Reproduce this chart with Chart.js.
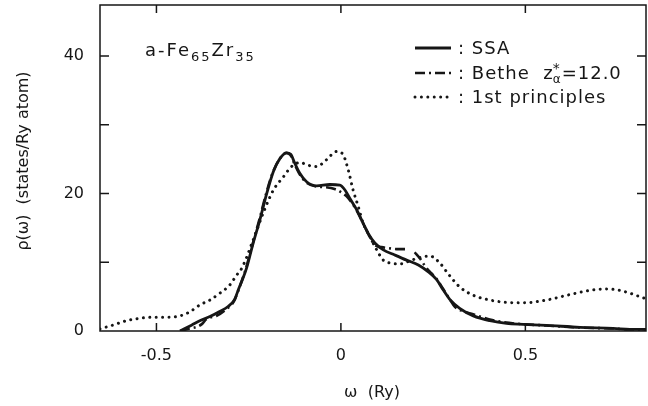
<!DOCTYPE html>
<html>
<head>
<meta charset="utf-8">
<script src="https://cdn.jsdelivr.net/npm/chart.js@4.4.0/dist/chart.umd.min.js"></script>
<style>
  html, body { margin: 0; padding: 0; background: #fff; }
  #wrap { width: 648px; height: 406px; }
</style>
</head>
<body>
<div id="wrap"><canvas id="dos" width="648" height="406"></canvas></div>
<script>
// values: omega (Ry) vs rho (states/Ry atom)
const ssaX = [-0.436, -0.405, -0.378, -0.355, -0.33, -0.305, -0.288, -0.278, -0.266, -0.256, -0.238, -0.22, -0.201, -0.183, -0.165, -0.147, -0.136, -0.125, -0.111, -0.093, -0.066, -0.03, -0.003, 0.011, 0.024, 0.043, 0.06, 0.074, 0.092, 0.115, 0.146, 0.178, 0.21, 0.237, 0.259, 0.277, 0.295, 0.322, 0.359, 0.404, 0.449, 0.494, 0.557, 0.648, 0.738, 0.783, 0.827];
const ssaY = [0, 0.85, 1.6, 2.1, 2.8, 3.6, 4.6, 6.0, 7.6, 9.1, 12.75, 16.1, 20.0, 23.2, 25.1, 25.9, 25.7, 24.4, 22.9, 21.7, 21.1, 21.3, 21.2, 20.5, 19.3, 17.6, 15.7, 14.2, 12.8, 11.8, 11.05, 10.3, 9.6, 8.6, 7.5, 6.0, 4.6, 3.3, 2.2, 1.5, 1.1, 0.97, 0.82, 0.53, 0.39, 0.24, 0.22];

const betheX = [-0.436, -0.41, -0.39, -0.377, -0.364, -0.337, -0.31, -0.29, -0.28, -0.268, -0.258, -0.24, -0.222, -0.203, -0.185, -0.166, -0.148, -0.137, -0.126, -0.112, -0.094, -0.066, -0.04, -0.015, 0.0, 0.015, 0.03, 0.045, 0.06, 0.075, 0.092, 0.11, 0.135, 0.155, 0.18, 0.19, 0.2, 0.215, 0.23, 0.245, 0.259, 0.275, 0.295, 0.309, 0.325, 0.341, 0.354, 0.377, 0.41, 0.439, 0.49, 0.557, 0.648, 0.738, 0.783, 0.827];
const betheY = [0, 0.35, 0.6, 1.0, 1.75, 2.2, 3.2, 4.3, 5.6, 7.4, 9.0, 12.5, 16.0, 19.9, 23.0, 25.0, 25.9, 25.6, 24.3, 22.8, 21.6, 21.0, 20.9, 20.6, 20.2, 19.6, 18.6, 17.3, 15.7, 14.0, 12.5, 12.2, 12.0, 11.9, 11.9, null, 11.45, 10.5, 9.3, 8.4, 7.6, 6.3, 4.6, 3.5, 3.0, 2.7, 2.5, 2.1, 1.6, 1.3, 1.0, 0.8, 0.5, 0.36, 0.22, 0.2];

const fpX = [-0.653, -0.617, -0.581, -0.545, -0.509, -0.472, -0.436, -0.409, -0.382, -0.355, -0.328, -0.301, -0.283, -0.269, -0.238, -0.211, -0.183, -0.156, -0.134, -0.111, -0.089, -0.066, -0.039, -0.012, 0.004, 0.02, 0.033, 0.047, 0.06, 0.079, 0.097, 0.115, 0.137, 0.16, 0.187, 0.214, 0.241, 0.268, 0.291, 0.322, 0.359, 0.395, 0.44, 0.494, 0.557, 0.621, 0.675, 0.711, 0.747, 0.783, 0.815, 0.827];
const fpY = [0.3, 0.87, 1.5, 1.85, 2.0, 2.0, 2.2, 2.8, 3.8, 4.5, 5.5, 6.7, 8.1, 9.1, 13.2, 17.1, 20.5, 22.4, 23.9, 24.5, 24.1, 23.9, 24.9, 26.1, 25.8, 23.4, 20.5, 18.1, 15.7, 13.7, 11.8, 10.3, 9.85, 9.75, 10.2, 10.7, 10.9, 9.9, 8.3, 6.4, 5.2, 4.6, 4.2, 4.1, 4.5, 5.3, 5.9, 6.1, 6.0, 5.5, 4.9, 4.7];

const xRange = [-0.653, 0.827];
const yRange = [0, 47.4];
const yLabelStep = 20;

const INK = '#161616';
const FONT = "'DejaVu Sans', sans-serif";

const SOLID = [];
const DASHDOT = [10, 4, 2, 4];
const DOTS = [0.01, 6.4];

function pts(xs, ys) {
  return xs.map((x, i) => ({ x, y: ys[i] }));
}

function drawRuns(ctx, x, baseY, runs) {
  // runs: [text, size, dy]
  runs.forEach(([t, size, dy]) => {
    ctx.font = `${size}px ${FONT}`;
    ctx.fillText(t, x, baseY + dy);
    x += ctx.measureText(t).width;
  });
  return x;
}

const decor = {
  id: 'decor',
  afterDraw(chart) {
    const { ctx, chartArea: a, scales: { x, y } } = chart;
    ctx.save();
    ctx.strokeStyle = INK;
    ctx.fillStyle = INK;

    // frame with inward ticks on all sides
    ctx.lineWidth = 1.5;
    ctx.setLineDash([]);
    ctx.strokeRect(a.left, a.top, a.right - a.left, a.bottom - a.top);
    ctx.beginPath();
    x.ticks.forEach(t => {
      const px = x.getPixelForValue(t.value);
      ctx.moveTo(px, a.bottom); ctx.lineTo(px, a.bottom - 8);
      ctx.moveTo(px, a.top); ctx.lineTo(px, a.top + 8);
    });
    y.ticks.forEach(t => {
      if (t.value <= 0) return;
      const py = y.getPixelForValue(t.value);
      ctx.moveTo(a.left, py); ctx.lineTo(a.left + 9, py);
      ctx.moveTo(a.right, py); ctx.lineTo(a.right - 9, py);
    });
    ctx.stroke();

    // axis titles
    ctx.textBaseline = 'middle';
    ctx.textAlign = 'center';
    ctx.font = `16px ${FONT}`;
    ctx.fillText('ω  (Ry)', 372, 393);
    ctx.save();
    ctx.translate(24, 161);
    ctx.rotate(-Math.PI / 2);
    ctx.fillText('ρ(ω)  (states/Ry atom)', 0, 0);
    ctx.restore();

    // sample label
    ctx.textAlign = 'left';
    ctx.textBaseline = 'alphabetic';
    ctx.letterSpacing = '2px';
    drawRuns(ctx, 145, 56, [['a-Fe', 18, 0], ['65', 13, 5], ['Zr', 18, 0], ['35', 13, 5]]);

    // legend
    ctx.letterSpacing = '1px';
    const rows = [
      { yc: 48, ds: 0 },
      { yc: 73, ds: 1 },
      { yc: 97, ds: 2 }
    ];
    rows.forEach(r => {
      const d = chart.data.datasets[r.ds];
      ctx.save();
      ctx.lineWidth = d.borderWidth;
      ctx.lineCap = d.borderCapStyle || 'butt';
      ctx.setLineDash(d.borderDash || []);
      ctx.beginPath();
      ctx.moveTo(415, r.yc); ctx.lineTo(451, r.yc);
      ctx.stroke();
      ctx.restore();
    });
    const base = 6;
    drawRuns(ctx, 458, 48 + base, [[': SSA', 18, 0]]);
    let bx = drawRuns(ctx, 458, 73 + base, [[': Bethe  z', 18, 0]]);
    ctx.font = `14px ${FONT}`;
    ctx.fillText('*', bx - 1, 73 + base - 6);
    ctx.font = `12px ${FONT}`;
    ctx.fillText('α', bx - 1, 73 + base + 4);
    drawRuns(ctx, bx + 8, 73 + base, [['=12.0', 18, 0]]);
    drawRuns(ctx, 458, 97 + base, [[': 1st principles', 18, 0]]);
    ctx.restore();
  }
};

new Chart(document.getElementById('dos'), {
  type: 'line',
  data: {
    datasets: [
      { label: 'SSA', data: pts(ssaX, ssaY), borderColor: INK, borderWidth: 2.8, borderDash: SOLID, pointRadius: 0, cubicInterpolationMode: 'monotone', fill: false },
      { label: 'Bethe z*α=12.0', data: pts(betheX, betheY), borderColor: INK, borderWidth: 2.6, borderDash: DASHDOT, pointRadius: 0, cubicInterpolationMode: 'monotone', spanGaps: false, fill: false },
      { label: '1st principles', data: pts(fpX, fpY), borderColor: INK, borderWidth: 3, borderDash: DOTS, borderCapStyle: 'round', pointRadius: 0, cubicInterpolationMode: 'monotone', fill: false }
    ]
  },
  options: {
    responsive: false,
    animation: false,
    devicePixelRatio: 1,
    layout: { padding: { top: 5, right: 2, left: 0, bottom: 0 } },
    plugins: { legend: { display: false }, tooltip: { enabled: false } },
    scales: {
      x: {
        type: 'linear',
        min: xRange[0],
        max: xRange[1],
        grid: { display: false, drawTicks: false },
        border: { display: false },
        ticks: {
          stepSize: 0.5,
          includeBounds: false,
          padding: 15,
          color: INK,
          font: { family: FONT, size: 16 },
          maxRotation: 0,
          callback: v => (v === 0 ? '0' : String(v))
        },
        afterFit: s => { s.height = 75; s.paddingLeft = 0; s.paddingRight = 0; }
      },
      y: {
        type: 'linear',
        min: yRange[0],
        max: yRange[1],
        grid: { display: false, drawTicks: false },
        border: { display: false },
        ticks: {
          stepSize: 10,
          includeBounds: false,
          padding: 16,
          color: INK,
          font: { family: FONT, size: 16 },
          callback: v => (v % yLabelStep === 0 ? String(v) : '')
        },
        afterFit: s => { s.width = 100; s.paddingTop = 0; s.paddingBottom = 0; }
      }
    }
  },
  plugins: [decor]
});
</script>
</body>
</html>
